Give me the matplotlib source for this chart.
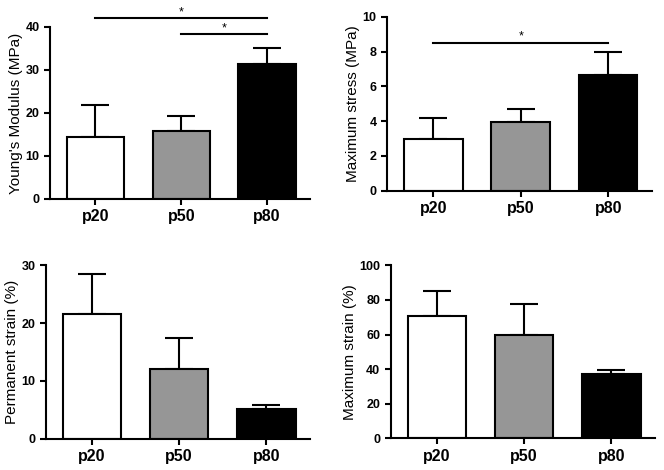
import numpy as np
import matplotlib.pyplot as plt

plt.rcParams['font.family'] = ['Liberation Sans', 'DejaVu Sans']

groups = ['p20', 'p50', 'p80']
bar_colors = ['white', '#969696', 'black']

youngs = [14.4, 15.9, 31.3]
youngs_err = [7.5, 3.5, 3.9]

stress = [2.95, 3.93, 6.65]
stress_err = [1.25, 0.77, 1.33]

perm_strain = [21.5, 12.0, 5.2]
perm_strain_err = [7.0, 5.5, 0.6]

max_strain = [70.9, 59.8, 37.3]
max_strain_err = [14.0, 17.6, 2.2]

# significance bars: (from group, to group, height in data units)
youngs_sig = [(0, 2, 42.0), (1, 2, 38.3)]
stress_sig = [(0, 2, 8.5)]


def bar_panel(ax, values, errors, ylabel, ymax, ystep, sig=()):
    x = np.arange(len(groups))
    lo = np.zeros(len(values))
    ax.bar(x, values, width=0.67, color=bar_colors, edgecolor='black',
           linewidth=1.5, zorder=2)
    ax.errorbar(x, values, yerr=[lo, errors], fmt='none', ecolor='black',
                elinewidth=1.5, capsize=10, capthick=1.5, zorder=1)
    ax.set_xlim(-0.53, 2.5)
    ax.set_ylim(0, ymax)
    ax.set_yticks(np.arange(0, ymax + ystep / 2, ystep))
    ax.set_xticks(x)
    ax.set_xticklabels(groups, fontsize=11.5, fontweight='bold')
    for lab in ax.get_yticklabels():
        lab.set_fontweight('bold')
        lab.set_fontsize(9)
    ax.set_ylabel(ylabel, fontsize=11, labelpad=1.5)
    for side in ['top', 'right']:
        ax.spines[side].set_visible(False)
    for side in ['left', 'bottom']:
        ax.spines[side].set_linewidth(1.5)
    ax.tick_params(width=1.5, length=4, direction='out')
    for i, j, h in sig:
        ax.plot([i, j], [h, h], color='black', lw=1.5, clip_on=False)
        ax.text((i + j) / 2, h, '*', ha='center', va='bottom', fontsize=9,
                clip_on=False)


fig = plt.figure(figsize=(6.64, 4.70), dpi=100)
ax1 = fig.add_axes([0.0753, 0.5766, 0.3916, 0.366])
ax2 = fig.add_axes([0.5828, 0.5943, 0.399, 0.370])
ax3 = fig.add_axes([0.0688, 0.0666, 0.398, 0.369])
ax4 = fig.add_axes([0.5884, 0.0674, 0.398, 0.368])

bar_panel(ax1, youngs, youngs_err, "Young's Modulus (MPa)", 40, 10, youngs_sig)
bar_panel(ax2, stress, stress_err, 'Maximum stress (MPa)', 10, 2, stress_sig)
bar_panel(ax3, perm_strain, perm_strain_err, 'Permanent strain (%)', 30, 10)
bar_panel(ax4, max_strain, max_strain_err, 'Maximum strain (%)', 100, 20)

fig.savefig('out.png', dpi=100)
